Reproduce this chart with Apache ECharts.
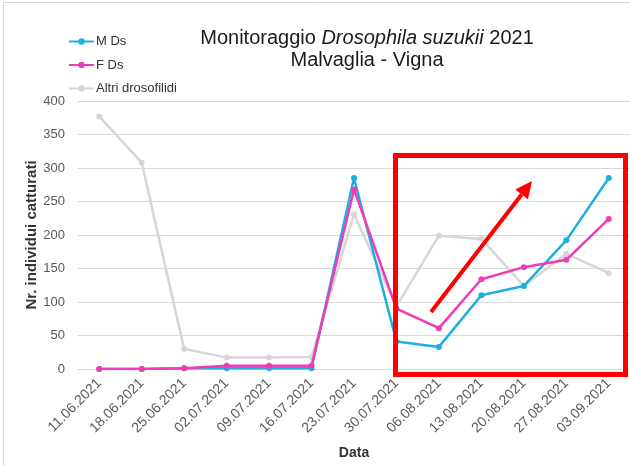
<!DOCTYPE html>
<html>
<head>
<meta charset="utf-8">
<script src="https://cdn.jsdelivr.net/npm/echarts@6/dist/echarts.min.js"></script>
<style>
  html, body { margin: 0; padding: 0; background: #fff; }
  #main { width: 630px; height: 466px; }
</style>
</head>
<body>
<div id="main"></div>
<script>
// date di cattura
var dates = ['11.06.2021', '18.06.2021', '25.06.2021', '02.07.2021', '09.07.2021', '16.07.2021',
  '23.07.2021', '30.07.2021', '06.08.2021', '13.08.2021', '20.08.2021', '27.08.2021', '03.09.2021'];
var maschi = [0, 0, 1, 1, 1, 1, 285, 41, 33, 110, 124, 192, 285];
var femmine = [0, 0, 1, 5, 5, 5, 268, 90, 61, 134, 152, 163, 224];
var altri = [377, 308, 30, 17, 17, 18, 231, 93, 199, 194, 124, 172, 143];
var yTicks = [0, 50, 100, 150, 200, 250, 300, 350, 400];

var font = 'Liberation Sans, Arial, sans-serif';
var chart = echarts.init(document.getElementById('main'));

function serie(name, data, color, z) {
  return {
    name: name,
    type: 'line',
    data: data,
    z: z,
    symbol: 'circle',
    symbolSize: 6,
    lineStyle: { width: 2.5, color: color },
    itemStyle: { color: color },
    emphasis: { disabled: true }
  };
}

// freccia rossa (annotazione)
var p0 = [431, 312], p1 = [532, 181];
var dx = p1[0] - p0[0], dy = p1[1] - p0[1];
var len = Math.sqrt(dx * dx + dy * dy);
var ux = dx / len, uy = dy / len;
var base = [p1[0] - 17 * ux, p1[1] - 17 * uy];

chart.setOption({
  animation: false,
  textStyle: { fontFamily: font },
  title: {
    text: 'Monitoraggio {i|Drosophila suzukii} 2021\nMalvaglia - Vigna',
    left: 362,
    textAlign: 'center',
    top: 22,
    textStyle: {
      fontSize: 20, fontWeight: 'normal', color: '#1a1a1a', lineHeight: 22,
      rich: { i: { fontSize: 20, fontStyle: 'italic', color: '#1a1a1a' } }
    }
  },
  legend: {
    orient: 'vertical',
    left: 63,
    top: 30,
    itemWidth: 25,
    itemHeight: 8,
    itemGap: 10.5,
    textStyle: { fontSize: 13, lineHeight: 13, color: '#333', padding: [0, 0, 0, -3] },
    data: ['M Ds', 'F Ds', 'Altri drosofilidi']
  },
  grid: { left: 78, right: 0, top: 101, bottom: 97 },
  xAxis: {
    type: 'category',
    data: dates,
    boundaryGap: true,
    name: 'Data',
    nameLocation: 'middle',
    nameGap: 77,
    nameTextStyle: { fontWeight: 'bold', fontSize: 14, color: '#333' },
    axisLine: { lineStyle: { color: '#d9d9d9' } },
    axisTick: { show: false },
    axisLabel: { rotate: 45, fontSize: 14, color: '#595959', margin: 12 }
  },
  yAxis: {
    type: 'value',
    min: yTicks[0],
    max: yTicks[yTicks.length - 1],
    interval: 50,
    name: 'Nr. individui catturati',
    nameLocation: 'middle',
    nameGap: 39,
    nameMoveOverlap: false,
    nameTextStyle: { fontWeight: 'bold', fontSize: 15, color: '#333' },
    axisLine: { show: false },
    axisTick: { show: false },
    axisLabel: { fontSize: 13, color: '#595959', margin: 13 },
    splitLine: { lineStyle: { color: '#d9d9d9', width: 1 } }
  },
  series: [
    serie('M Ds', maschi, '#1cb0e2', 3),
    serie('F Ds', femmine, '#ef3cb5', 4),
    serie('Altri drosofilidi', altri, '#d6d6d6', 2)
  ],
  graphic: [
    {
      type: 'rect', silent: true,
      shape: { x: 3.5, y: 2.5, width: 640, height: 470 },
      style: { fill: 'none', stroke: '#d9d9d9', lineWidth: 1 }
    },
    {
      type: 'rect', silent: true, z: 100,
      shape: { x: 395.5, y: 155.5, width: 230, height: 219 },
      style: { fill: 'none', stroke: '#ff0000', lineWidth: 5 }
    },
    {
      type: 'line', silent: true, z: 100,
      shape: { x1: p0[0], y1: p0[1], x2: base[0], y2: base[1] },
      style: { stroke: '#ff0000', lineWidth: 4 }
    },
    {
      type: 'polygon', silent: true, z: 100,
      shape: {
        points: [
          p1,
          [base[0] - 8 * uy, base[1] + 8 * ux],
          [base[0] + 8 * uy, base[1] - 8 * ux]
        ]
      },
      style: { fill: '#ff0000' }
    }
  ]
});
</script>
</body>
</html>
